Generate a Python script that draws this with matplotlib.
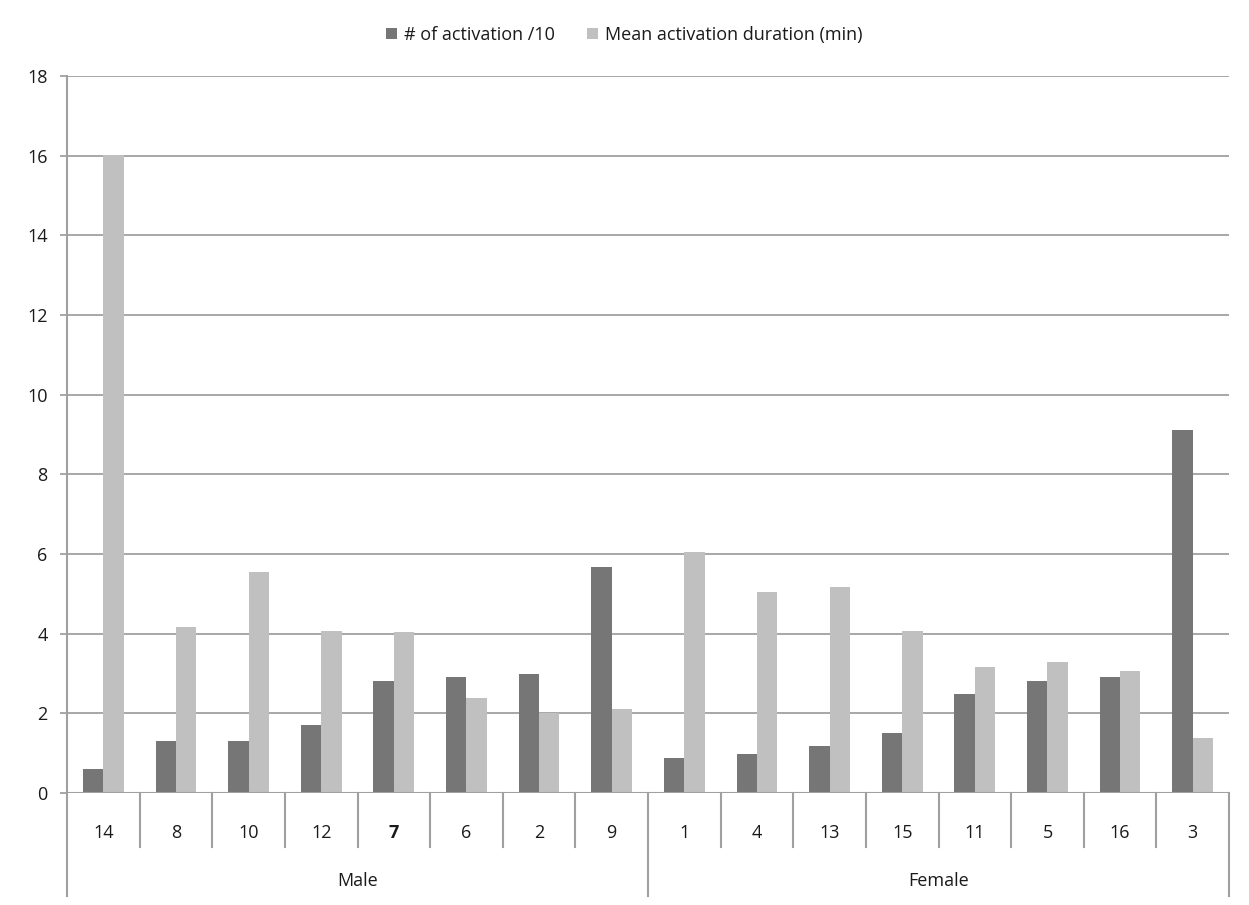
import matplotlib
matplotlib.use('Agg')
import matplotlib.pyplot as plt
import matplotlib.transforms as mtransforms
import numpy as np

# Data
subjects = ['14', '8', '10', '12', '7', '6', '2', '9',
            '1', '4', '13', '15', '11', '5', '16', '3']
groups = ['Male', 'Female']
group_sizes = [8, 8]
activations = [0.6, 1.3, 1.3, 1.7, 2.8, 2.9, 3.0, 5.68,
               0.87, 0.98, 1.18, 1.5, 2.49, 2.8, 2.9, 9.11]
durations = [16.02, 4.17, 5.54, 4.07, 4.04, 2.39, 2.02, 2.11,
             6.04, 5.05, 5.16, 4.07, 3.17, 3.28, 3.06, 1.39]

DARK = '#767676'
LIGHT = '#c0c0c0'
GRID = '#a0a0a0'
TXT = '#1a1a1a'
FS = 13

plt.rcParams['font.family'] = ['Open Sans', 'DejaVu Sans']

fig = plt.figure(figsize=(12.49, 9.05), dpi=100)
ax = fig.add_axes([67 / 1249, 1 - 793 / 905, (1229 - 67) / 1249, (793 - 76) / 905])

x = np.arange(len(subjects))
w = 0.28
ax.bar(x - w / 2, activations, w, color=DARK, label='# of activation /10', zorder=3)
ax.bar(x + w / 2, durations, w, color=LIGHT, label='Mean activation duration (min)', zorder=3)

ax.set_xlim(-0.5, len(subjects) - 0.5)
ax.set_ylim(0, 18)
ax.set_yticks(range(0, 19, 2))
ax.yaxis.grid(True, color=GRID, linewidth=1.3, zorder=0)
ax.tick_params(axis='y', length=5, width=1.3, color=GRID, pad=9, labelsize=FS, labelcolor=TXT)
ax.set_xticks([])
for s in ['top', 'right', 'bottom', 'left']:
    ax.spines[s].set_visible(False)

# baseline
ax.axhline(0, color=GRID, linewidth=1.5, zorder=4)

# category axis below the plot
trans = mtransforms.blended_transform_factory(ax.transData, fig.transFigure)
ybase = 1 - 793 / 905
ysub = 1 - 847 / 905
ygrp = 1 - 896 / 905
ylab = 1 - 833 / 905
ygl = 1 - 881 / 905

# left axis line including group area
ax.plot([-0.5, -0.5], [1 - 76 / 905, ygrp], transform=trans, color=GRID, lw=1.5, clip_on=False)

bounds = np.cumsum([0] + group_sizes) - 0.5
for b in np.arange(0.5, len(subjects) - 0.5):
    if b in bounds:
        continue
    ax.plot([b, b], [ybase, ysub], transform=trans, color=GRID, lw=1.5, clip_on=False)
for b in bounds[1:]:
    ax.plot([b, b], [ybase, ygrp], transform=trans, color=GRID, lw=1.5, clip_on=False)

for i, s in enumerate(subjects):
    ax.text(i, ylab, s, transform=trans, ha='center', va='center', fontsize=FS,
            color=TXT, fontweight='bold' if s == '7' else 'normal')

for g, lo, hi in zip(groups, bounds[:-1], bounds[1:]):
    ax.text((lo + hi) / 2, ygl, g, transform=trans, ha='center', va='center',
            fontsize=FS, color=TXT)

leg = fig.legend(loc='center', bbox_to_anchor=(0.5, 1 - 35 / 905), ncol=2, frameon=False,
                 fontsize=FS, handlelength=0.6, handleheight=0.6, handletextpad=0.4,
                 columnspacing=1.8)
for t in leg.get_texts():
    t.set_color(TXT)

fig.savefig('out.png', dpi=100, facecolor='white')
